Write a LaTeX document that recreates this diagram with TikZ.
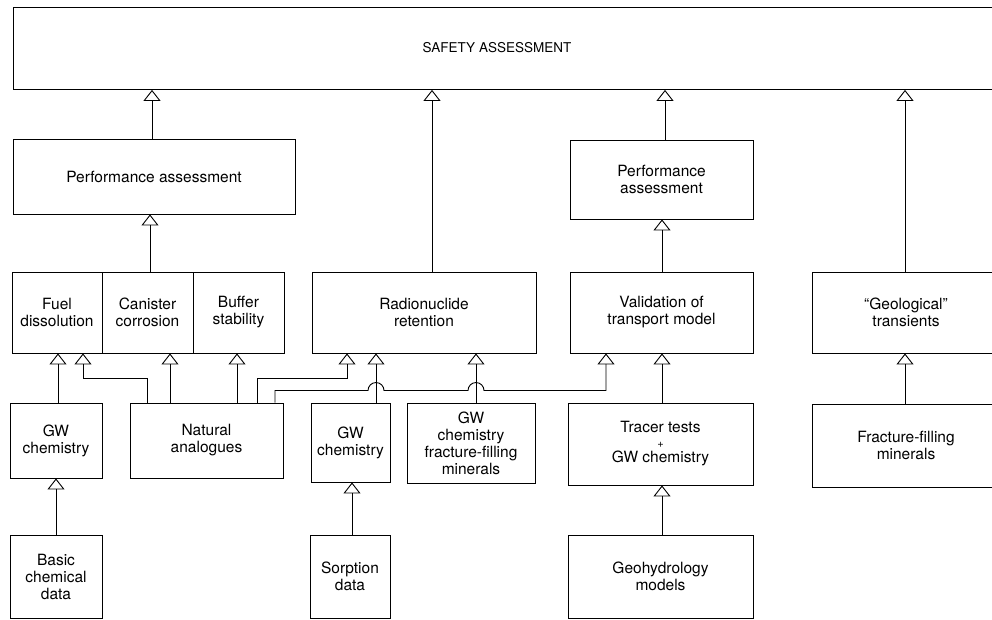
\documentclass[tikz,border=0pt]{standalone}
\usepackage{fontspec}
\setmainfont{TeX Gyre Heros}
\usetikzlibrary{arrows.meta}
\tikzset{
  box/.style={draw, line width=0.9pt, rectangle, inner sep=0pt, align=center,
    font=\fontsize{15.5}{17}\selectfont},
  arr/.style={line width=0.9pt, -{Triangle[open,length=11pt,width=17pt,line width=0.9pt]}},
}
\newcommand{\bx}[6]{% name, x1, y1, x2, y2, text
  \node[box, minimum width={(#4-#2)*1pt}, minimum height={(#5-#3)*1pt}] (#1) at ({(#2+#4)/2},{(#3+#5)/2}) {#6};}
\begin{document}
\begin{tikzpicture}[x=1pt,y=-1pt]
\useasboundingbox (0,0) rectangle (992,619);
\clip (0,0) rectangle (992,619);
\fill[white] (0,0) rectangle (992,619);
% x positions
\foreach \v in {56,58,83,147,150,152,170,237,257,275,347,352,376,432,476,606,662,665,905}
  \coordinate (c\v) at (\v,0);
\coordinate (y378) at (0,378.5);
\coordinate (y390) at (0,390.5);
% boxes
\node[draw, line width=0.9pt, minimum width=1087pt, minimum height=82pt, anchor=north west] (sa) at (13,7) {};
\node[font=\fontsize{13.5}{15}\selectfont] (satext) at (497,48) {SAFETY ASSESSMENT};
\bx{pa1}{13}{139}{295}{214}{Performance assessment}
\bx{pa2}{570}{140}{753}{219}{Performance\\assessment}
\bx{fuel}{12}{272}{102}{353}{Fuel\\dissolution}
\bx{can}{102}{272}{193}{353}{Canister\\corrosion}
\bx{buf}{193}{272}{284}{353}{Buffer\\stability}
\bx{rr}{312}{272}{536}{353}{Radionuclide\\retention}
\bx{val}{570}{272}{753}{353}{Validation of\\transport model}
\bx{geo}{812}{272}{1000}{353}{``Geological''\\transients}
\bx{gw1}{10}{403}{102}{478}{GW\\chemistry}
\bx{na}{130}{403}{283}{478}{Natural\\analogues}
\bx{gw2}{311}{403}{390}{482}{GW\\chemistry}
\bx{gwf}{407}{403}{535}{483}{GW\\chemistry\\fracture-filling\\minerals}
\bx{tt}{568}{403}{753}{485}{Tracer tests\\[-2pt]{\fontsize{11}{11}\selectfont +}\\[-2pt]GW chemistry}
\bx{ffm}{812}{404}{1000}{487}{Fracture-filling\\minerals}
\bx{bcd}{10}{535}{102}{618}{Basic\\chemical\\data}
\bx{sd}{310}{535}{390}{618}{Sorption\\data}
\bx{gh}{568}{535}{753}{618}{Geohydrology\\models}
% connectors
\draw[arr] (pa1.north -| c152) -- (sa.south -| c152);
\draw[arr] (rr.north -| c432) -- (sa.south -| c432);
\draw[arr] (pa2.north -| c665) -- (sa.south -| c665);
\draw[arr] (geo.north -| c905) -- (sa.south -| c905);
\draw[arr] (can.north -| c150) -- (pa1.south -| c150);
\draw[arr] (val.north -| c662) -- (pa2.south -| c662);
\draw[arr] (gw1.north -| c58) -- (fuel.south -| c58);
\draw[arr] (na.north -| c147) -- (c147 |- y378) -- (c83 |- y378) -- (fuel.south -| c83);
\draw[arr] (na.north -| c170) -- (can.south -| c170);
\draw[arr] (na.north -| c237) -- (buf.south -| c237);
\draw[arr] (na.north -| c257) -- (c257 |- y378) -- (c347 |- y378) -- (rr.south -| c347);
\draw[arr] (na.north -| c275) -- (c275 |- y390) -- (368,390.5)
  arc[start angle=180, end angle=0, radius=8pt] -- (468,390.5)
  arc[start angle=180, end angle=0, radius=8pt] -- (c606 |- y390) -- (val.south -| c606);
\draw[arr] (gw2.north -| c376) -- (rr.south -| c376);
\draw[arr] (gwf.north -| c476) -- (rr.south -| c476);
\draw[arr] (bcd.north -| c56) -- (gw1.south -| c56);
\draw[arr] (sd.north -| c352) -- (gw2.south -| c352);
\draw[arr] (gh.north -| c662) -- (tt.south -| c662);
\draw[arr] (tt.north -| c662) -- (val.south -| c662);
\draw[arr] (ffm.north -| c905) -- (geo.south -| c905);
\end{tikzpicture}
\end{document}
